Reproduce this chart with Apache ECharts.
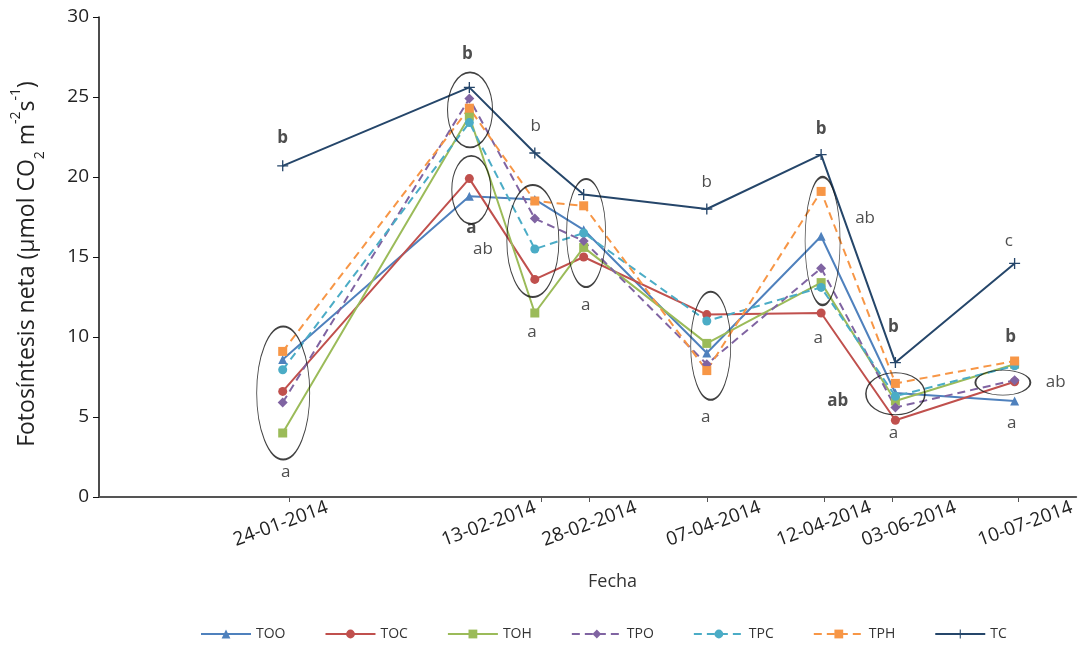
<!DOCTYPE html>
<html>
<head>
<meta charset="utf-8">
<script src="https://cdn.jsdelivr.net/npm/echarts@6/dist/echarts.min.js"></script>
<style>html,body{margin:0;padding:0;background:#fff;}#c{width:1078px;height:658px;}</style>
</head>
<body>
<div id="c"></div>
<script>
// ---- DATA ----
// x positions of the sampling points on the (non-linear) date axis, in axis units 0..100
var xPos = [18.8, 37.9, 44.6, 49.6, 62.2, 73.9, 81.5, 93.7];
var seriesNames = ['TOO', 'TOC', 'TOH', 'TPO', 'TPC', 'TPH', 'TC'];
var TOO = [8.6, 18.8, 18.6, 16.7, 9.0, 16.3, 6.5, 6.0];
var TOC = [6.6, 19.9, 13.6, 15.0, 11.4, 11.5, 4.8, 7.2];
var TOH = [4.0, 23.8, 11.5, 15.6, 9.6, 13.4, 6.0, 8.3];
var TPO = [5.9, 24.9, 17.4, 16.0, 8.3, 14.3, 5.6, 7.3];
var TPC = [7.95, 23.4, 15.5, 16.5, 11.0, 13.1, 6.3, 8.2];
var TPH = [9.1, 24.3, 18.5, 18.2, 7.9, 19.1, 7.1, 8.5];
var TC  = [20.7, 25.6, 21.5, 18.9, 18.0, 21.4, 8.4, 14.6];
// date tick labels
var dateLabels = ['24-01-2014', '13-02-2014', '28-02-2014', '07-04-2014', '12-04-2014', '03-06-2014', '10-07-2014'];
var tickPos  = [19.5, 45.3, 50.2, 62.2, 74.2, 81.2, 94.1];
var labelPos = [18.6, 39.9, 50.2, 62.9, 74.2, 82.9, 94.8];
var yTicks = [0, 5, 10, 15, 20, 25, 30];
// significance letters [x, y, text, bold]
var letters = [
  [18.8, 22.4, 'b', 1], [19.1, 1.55, 'a', 0],
  [37.7, 27.7, 'b', 1], [38.1, 16.8, 'a', 1], [39.3, 15.5, 'ab', 0],
  [44.7, 23.2, 'b', 0], [44.3, 10.3, 'a', 0],
  [49.8, 12.0, 'a', 0],
  [62.2, 19.7, 'b', 0], [62.1, 5.0, 'a', 0],
  [73.9, 23.0, 'b', 1], [78.4, 17.45, 'ab', 0], [73.6, 9.9, 'a', 0],
  [81.3, 10.6, 'b', 1], [75.6, 6.0, 'ab', 1], [81.3, 4.0, 'a', 0],
  [93.1, 16.0, 'c', 0], [93.3, 10.0, 'b', 1], [97.9, 7.2, 'ab', 0], [93.4, 4.6, 'a', 0]
];
// ellipse centres [x, y]
var ellipseCenters = [
  [18.85, 6.5], [37.97, 24.2], [38.1, 19.2], [44.4, 16.0], [49.85, 16.5],
  [62.6, 9.45], [74.05, 16.0], [81.5, 6.45], [92.5, 7.15]
];

// ---- STYLES ----
var ellipseSize = [[53, 133], [45, 75], [39, 68], [52, 112], [39, 108], [40, 108], [35, 128], [59, 42], [55, 25]];
var plusPath = 'path://M4.4,0h1.2v4.4h4.4v1.2h-4.4v4.4h-1.2v-4.4h-4.4v-1.2h4.4z';
var styles = {
  TOO: {color: '#4F81BD', symbol: 'triangle', dash: 'solid', size: 9},
  TOC: {color: '#C0504D', symbol: 'circle', dash: 'solid', size: 9},
  TOH: {color: '#9BBB59', symbol: 'rect', dash: 'solid', size: 9},
  TPO: {color: '#8064A2', symbol: 'diamond', dash: [8, 5], size: 10},
  TPC: {color: '#4BACC6', symbol: 'circle', dash: [8, 5], size: 9},
  TPH: {color: '#F79646', symbol: 'rect', dash: [8, 5], size: 9},
  TC:  {color: '#25466A', symbol: plusPath, dash: 'solid', size: 11}
};
var valuesByName = {TOO: TOO, TOC: TOC, TOH: TOH, TPO: TPO, TPC: TPC, TPH: TPH, TC: TC};
var FONT = 'Open Sans';

var series = seriesNames.map(function (n) {
  var s = styles[n];
  return {
    name: n, type: 'line',
    data: xPos.map(function (x, i) { return [x, valuesByName[n][i]]; }),
    symbol: s.symbol, symbolSize: s.size, showAllSymbol: true,
    lineStyle: {color: s.color, width: 2, type: s.dash},
    itemStyle: {color: s.color},
    z: n === 'TC' ? 4 : 3,
    animation: false
  };
});
series.push({
  name: 'ellipses', type: 'scatter',
  data: ellipseCenters.map(function (c, i) { return {value: c, symbolSize: ellipseSize[i]}; }),
  symbol: 'circle',
  itemStyle: {color: 'rgba(0,0,0,0)', borderColor: '#111', borderWidth: 1.3},
  silent: true, z: 5, animation: false
});
series.push({
  name: 'letters', type: 'scatter',
  data: letters.map(function (l) {
    return {value: [l[0], l[1]], label: {show: true, formatter: l[2], fontWeight: l[3] ? 'bold' : 'normal'}};
  }),
  symbolSize: 0,
  label: {show: true, position: 'inside', fontFamily: FONT, fontSize: 17, color: '#222'},
  silent: true, z: 6, animation: false
});

var labelMap = {};
labelPos.forEach(function (p, i) { labelMap[p] = dateLabels[i]; });

var chart = echarts.init(document.getElementById('c'), null, {renderer: 'canvas'});
chart.setOption({
  backgroundColor: '#fff',
  animation: false,
  grid: {left: 99, right: 0, top: 17, bottom: 161, containLabel: false},
  legend: {
    data: seriesNames, bottom: 12, left: 195,
    itemWidth: 50, itemHeight: 11, itemGap: 39,
    textStyle: {fontFamily: FONT, fontSize: 14, color: '#333'}
  },
  xAxis: {
    type: 'value', min: 0, max: 100,
    name: 'Fecha', nameLocation: 'middle', nameGap: 76,
    nameTextStyle: {fontFamily: FONT, fontSize: 18, color: '#333', padding: [0, 0, 0, 50]},
    axisLine: {show: true, lineStyle: {color: '#555', width: 2}},
    axisTick: {show: true, customValues: tickPos, length: 5, lineStyle: {color: '#555', width: 1}},
    axisLabel: {
      customValues: labelPos, rotate: 20, align: 'center', verticalAlign: 'middle', margin: 27,
      fontFamily: FONT, fontSize: 19, color: '#222',
      formatter: function (v) { return labelMap[v] || ''; }
    },
    splitLine: {show: false}
  },
  yAxis: {
    type: 'value', min: 0, max: 30, interval: 5,
    name: '{n|Fotosíntesis neta (µmol CO}{sb|2}{n| m}{sp|-2}{n|s}{sp|-1}{n|)}',
    nameLocation: 'middle', nameGap: 58,
    nameTextStyle: {
      padding: [0, 14, 0, 0],
      rich: {
        n: {fontFamily: FONT, fontSize: 23, color: '#222', lineHeight: 28},
        sb: {fontFamily: FONT, fontSize: 14, color: '#222', verticalAlign: 'bottom', lineHeight: 28, padding: [0, 0, -6, 0]},
        sp: {fontFamily: FONT, fontSize: 14, color: '#222', verticalAlign: 'top', lineHeight: 28, padding: [-4, 0, 0, 0]}
      }
    },
    axisLine: {show: true, lineStyle: {color: '#111', width: 1.5}},
    axisTick: {show: true, length: 6, lineStyle: {color: '#111'}},
    axisLabel: {fontFamily: FONT, fontSize: 19, color: '#222', margin: 10},
    splitLine: {show: false}
  },
  series: series
});
</script>
</body>
</html>
